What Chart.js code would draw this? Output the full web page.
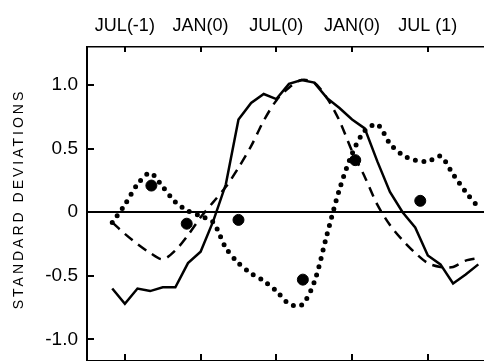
<!DOCTYPE html>
<html>
<head>
<meta charset="utf-8">
<script src="https://cdn.jsdelivr.net/npm/chart.js@4/dist/chart.umd.min.js"></script>
<style>
  html, body { margin: 0; padding: 0; background: #fff; }
  #wrap { width: 484px; height: 361px; position: relative; }
</style>
</head>
<body>
<div id="wrap"><canvas id="chart"></canvas></div>
<script>
// months counted from JUL(-1) = 0
const months = [-1, 0, 1, 2, 3, 4, 5, 6, 7, 8, 9, 10, 11, 12, 13, 14, 15, 16, 17, 18, 19, 20, 21, 22, 23, 24, 25, 26, 27, 28];
const solidValues = [-0.60, -0.72, -0.60, -0.62, -0.59, -0.59, -0.40, -0.31, -0.07, 0.22, 0.73, 0.86, 0.93, 0.89, 1.01, 1.04, 1.02, 0.90, 0.82, 0.73, 0.66, 0.40, 0.16, 0.00, -0.12, -0.34, -0.41, -0.56, -0.49, -0.41];
const dashedValues = [-0.08, -0.17, -0.25, -0.32, -0.37, -0.30, -0.18, -0.04, 0.08, 0.20, 0.35, 0.52, 0.72, 0.88, 0.98, 1.04, 1.02, 0.90, 0.72, 0.48, 0.28, 0.06, -0.10, -0.22, -0.32, -0.40, -0.43, -0.43, -0.38, -0.36];
const dottedValues = [-0.08, 0.06, 0.22, 0.31, 0.20, 0.08, 0.01, -0.03, -0.08, -0.28, -0.40, -0.48, -0.54, -0.62, -0.72, -0.73, -0.55, -0.18, 0.18, 0.46, 0.64, 0.69, 0.54, 0.45, 0.41, 0.40, 0.44, 0.30, 0.16, 0.04];
const dotMonths = [2.1, 4.9, 9.0, 14.1, 18.25, 23.4];
const dotValues = [0.21, -0.09, -0.06, -0.53, 0.41, 0.09];

const topTickMonths = [0, 6, 12, 18, 24];
const topTickLabels = ['JUL(-1)', 'JAN(0)', 'JUL(0)', 'JAN(0)', 'JUL (1)'];
const yTicks = [-1, -0.5, 0, 0.5, 1];
const yTickLabels = ['-1.0', '-0.5', '0', '0.5', '1.0'];
const yTitle = 'STANDARD DEVIATIONS';

const toPoints = (xs, ys) => xs.map((x, i) => ({ x: x, y: ys[i] }));
const font = '"Liberation Sans", Arial, sans-serif';

// inward tick marks and spaced-out axis title
const extras = {
    id: 'extras',
    afterDatasetsDraw(chart) {
        const { ctx, chartArea, scales } = chart;
        ctx.save();
        ctx.strokeStyle = '#000';
        ctx.lineWidth = 2;
        ctx.beginPath();
        topTickMonths.forEach(m => {
            const px = Math.round(scales.x.getPixelForValue(m));
            ctx.moveTo(px, chartArea.top);
            ctx.lineTo(px, chartArea.top + 5);
            ctx.moveTo(px, chartArea.bottom);
            ctx.lineTo(px, chartArea.bottom - 7);
        });
        yTicks.forEach(v => {
            const py = Math.round(scales.y.getPixelForValue(v));
            ctx.moveTo(chartArea.left, py);
            ctx.lineTo(chartArea.left + 7, py);
        });
        ctx.stroke();

        ctx.translate(19, 201);
        ctx.rotate(-Math.PI / 2);
        ctx.fillStyle = '#000';
        ctx.font = '14px ' + font;
        ctx.letterSpacing = '3px';
        ctx.textAlign = 'center';
        ctx.textBaseline = 'middle';
        ctx.fillText(yTitle, 2, 0);
        ctx.restore();
    }
};

const noPad = s => { s.paddingTop = 0; s.paddingBottom = 0; s.paddingLeft = 0; s.paddingRight = 0; };

const ctx = document.getElementById('chart').getContext('2d');
new Chart(ctx, {
    type: 'line',
    data: {
        datasets: [
            {
                label: 'solid',
                data: toPoints(months, solidValues),
                borderColor: '#000',
                borderWidth: 2.5,
                pointRadius: 0,
                tension: 0
            },
            {
                label: 'dashed',
                data: toPoints(months, dashedValues),
                borderColor: '#000',
                borderWidth: 2.5,
                borderDash: [10, 7],
                pointRadius: 0,
                tension: 0.3
            },
            {
                label: 'dotted',
                data: toPoints(months, dottedValues),
                borderColor: '#000',
                borderWidth: 5,
                borderDash: [0, 8.5],
                borderCapStyle: 'round',
                pointRadius: 0,
                tension: 0.3
            },
            {
                type: 'scatter',
                label: 'dots',
                data: toPoints(dotMonths, dotValues),
                backgroundColor: '#000',
                borderColor: '#000',
                pointRadius: 5.5,
                showLine: false
            }
        ]
    },
    options: {
        animation: false,
        responsive: true,
        maintainAspectRatio: false,
        layout: { padding: 0, autoPadding: false },
        plugins: {
            legend: { display: false },
            tooltip: { enabled: false }
        },
        scales: {
            x: {
                type: 'linear',
                position: 'bottom',
                min: -3,
                max: 28.45,
                grid: { display: false, drawTicks: false },
                ticks: { display: false },
                border: { display: true, color: '#000', width: 2 },
                afterFit: s => { s.height = 0; noPad(s); }
            },
            xTop: {
                type: 'linear',
                position: 'top',
                min: -3,
                max: 28.45,
                grid: { drawOnChartArea: false, drawTicks: false },
                border: { display: true, color: '#000', width: 1.5 },
                afterBuildTicks: s => { s.ticks = topTickMonths.map(v => ({ value: v })); },
                ticks: {
                    autoSkip: false,
                    maxRotation: 0,
                    padding: 10,
                    color: '#000',
                    font: { family: font, size: 18 },
                    callback: v => topTickLabels[topTickMonths.indexOf(v)]
                },
                afterFit: s => { s.height = 47; noPad(s); }
            },
            y: {
                min: -1.17,
                max: 1.30,
                grid: {
                    drawTicks: false,
                    lineWidth: 2,
                    color: c => (c.tick && c.tick.value === 0) ? '#000' : 'rgba(0,0,0,0)'
                },
                border: { display: true, color: '#000', width: 2 },
                afterBuildTicks: s => { s.ticks = yTicks.map(v => ({ value: v })); },
                ticks: {
                    padding: 9,
                    color: '#000',
                    font: { family: font, size: 19 },
                    callback: v => yTickLabels[yTicks.indexOf(v)]
                },
                afterFit: s => { s.width = 87; noPad(s); }
            }
        }
    },
    plugins: [extras]
});
</script>
</body>
</html>
